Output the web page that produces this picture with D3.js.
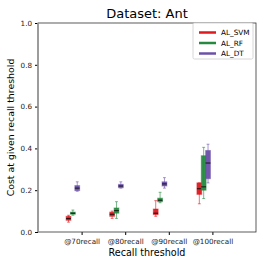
<!DOCTYPE html>
<html>
<head>
<meta charset="utf-8">
<script src="https://d3js.org/d3.v7.min.js"></script>
<style>
body { margin: 0; background: #fff; }
text { font-family: "DejaVu Sans", sans-serif; }
</style>
</head>
<body>
<script>
let categories = ["@70recall", "@80recall", "@90recall", "@100recall"]
let models = ["AL_SVM", "AL_RF", "AL_DT"]
let colors = ["#e0191f", "#258a3f", "#6c51a8"]
let yTicks = [0, 0.2, 0.4, 0.6, 0.8, 1.0]
// [min, q1, median, q3, max] per category
let svmStats = [
    [0.047, 0.056, 0.064, 0.075, 0.08],
    [0.065, 0.075, 0.085, 0.095, 0.1],
    [0.075, 0.083, 0.09, 0.11, 0.15],
    [0.135, 0.18, 0.207, 0.235, 0.235]
]
let rfStats = [
    [0.08, 0.085, 0.09, 0.095, 0.105],
    [0.065, 0.09, 0.102, 0.115, 0.145],
    [0.14, 0.145, 0.152, 0.162, 0.19],
    [0.16, 0.2, 0.216, 0.365, 0.405]
]
let dtStats = [
    [0.195, 0.198, 0.21, 0.222, 0.24],
    [0.21, 0.212, 0.22, 0.228, 0.24],
    [0.21, 0.22, 0.23, 0.24, 0.26],
    [0.235, 0.255, 0.33, 0.39, 0.42]
]
let allStats = [svmStats, rfStats, dtStats]
let offsets = [-0.3, -0.2, -0.1]

let width = 266, height = 266
let margin = {left: 38, right: 10, top: 23, bottom: 34}

let svg = d3.select("body").append("svg")
    .attr("width", width)
    .attr("height", height)

let x = d3.scaleLinear().domain([0, 5]).range([margin.left, width - margin.right])
let y = d3.scaleLinear().domain([0, 1]).range([height - margin.bottom, margin.top])

//title and labels
svg.append("text")
    .attr("x", (margin.left + width - margin.right) / 2)
    .attr("y", 18)
    .attr("text-anchor", "middle")
    .style("font-size", "13px")
    .text("Dataset: Ant")

svg.append("text")
    .attr("transform", `translate(14, ${(margin.top + height - margin.bottom) / 2}) rotate(-90)`)
    .attr("text-anchor", "middle")
    .style("font-size", "9.4px")
    .text("Cost at given recall threshold")

svg.append("text")
    .attr("x", (margin.left + width - margin.right) / 2)
    .attr("y", 256)
    .attr("text-anchor", "middle")
    .style("font-size", "9.6px")
    .text("Recall threshold")

//axes
let xAxis = d3.axisBottom(x)
    .tickValues([1, 2, 3, 4])
    .tickFormat((d, i) => categories[i])
    .tickSize(3)
let yAxis = d3.axisLeft(y)
    .tickValues(yTicks)
    .tickFormat(d3.format(".1f"))
    .tickSize(3)

let gx = svg.append("g")
    .attr("transform", `translate(0, ${height - margin.bottom})`)
    .call(xAxis)
gx.select(".domain").remove()
gx.selectAll("text").style("font-size", "7.2px").attr("dy", "0.85em").attr("fill", "#222")

let gy = svg.append("g")
    .attr("transform", `translate(${margin.left}, 0)`)
    .call(yAxis)
gy.select(".domain").remove()
gy.selectAll("text").style("font-size", "7.2px").attr("fill", "#222")

//frame
svg.append("rect")
    .attr("x", margin.left)
    .attr("y", margin.top)
    .attr("width", width - margin.left - margin.right)
    .attr("height", height - margin.top - margin.bottom)
    .attr("fill", "none")
    .attr("stroke", "#333")
    .attr("stroke-width", 0.8)
svg.append("line")
    .attr("x1", margin.left).attr("x2", margin.left)
    .attr("y1", margin.top).attr("y2", height - margin.bottom)
    .attr("stroke", "#999")
    .attr("stroke-width", 1.6)

//boxes
let boxW = 0.11
allStats.forEach((stats, m) => {
    let g = svg.append("g")
    let c = colors[m]
    stats.forEach((s, i) => {
        let cx = x(i + 1 + offsets[m])
        let hw = (x(boxW) - x(0)) / 2
        // whiskers
        g.append("line")
            .attr("x1", cx).attr("x2", cx)
            .attr("y1", y(s[0])).attr("y2", y(s[4]))
            .attr("stroke", c).attr("stroke-opacity", 0.6).attr("stroke-width", 1)
        ;[s[0], s[4]].forEach(v => {
            g.append("line")
                .attr("x1", cx - hw * 0.6).attr("x2", cx + hw * 0.6)
                .attr("y1", y(v)).attr("y2", y(v))
                .attr("stroke", c).attr("stroke-opacity", 0.6).attr("stroke-width", 1)
        })
        g.append("rect")
            .attr("x", cx - hw)
            .attr("y", y(s[3]))
            .attr("width", hw * 2)
            .attr("height", Math.max(y(s[1]) - y(s[3]), 1))
            .attr("fill", c)
            .attr("fill-opacity", 0.95)
            .attr("stroke", c)
            .attr("stroke-opacity", 0.5)
            .attr("stroke-width", 1)
        g.append("line")
            .attr("x1", cx - hw).attr("x2", cx + hw)
            .attr("y1", y(s[2])).attr("y2", y(s[2]))
            .attr("stroke", "#111").attr("stroke-width", 1)
    })
})

//legend
let legend = svg.append("g").attr("transform", "translate(193, 23)")
legend.append("rect")
    .attr("width", 60)
    .attr("height", 36)
    .attr("rx", 1.5)
    .attr("fill", "#fff")
    .attr("stroke", "#ccc")
    .attr("stroke-width", 0.8)
models.forEach((name, i) => {
    legend.append("line")
        .attr("x1", 6).attr("x2", 23)
        .attr("y1", 9.5 + i * 10.5).attr("y2", 9.5 + i * 10.5)
        .attr("stroke", colors[i])
        .attr("stroke-width", 2.5)
    legend.append("text")
        .attr("x", 28)
        .attr("y", 9.5 + i * 10.5)
        .attr("dy", "0.35em")
        .style("font-size", "7.3px")
        .text(name)
})
</script>
</body>
</html>
